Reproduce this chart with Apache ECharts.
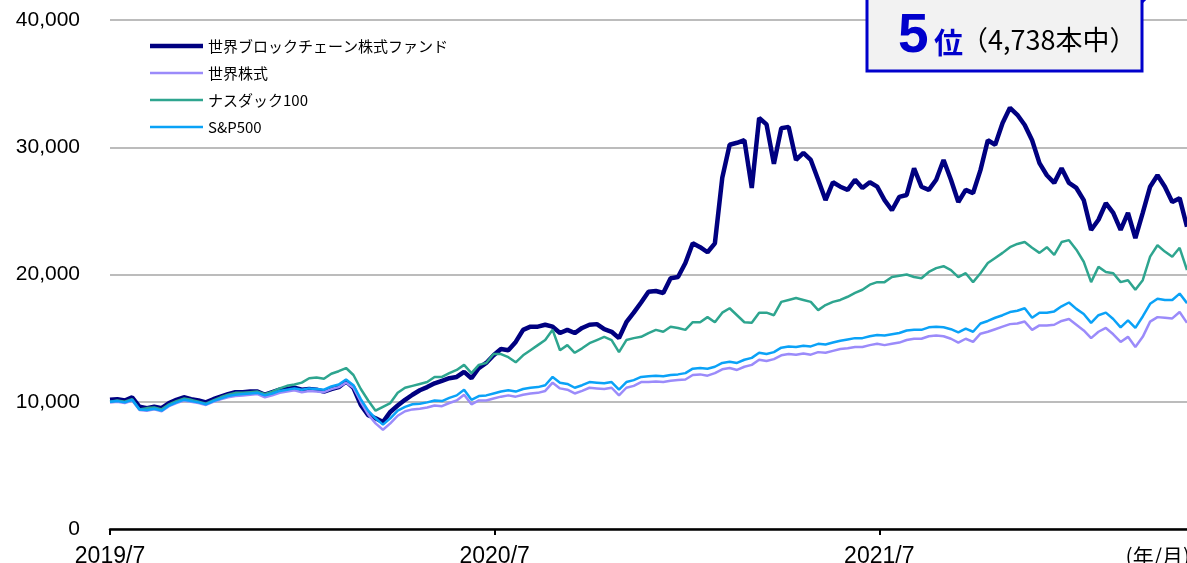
<!DOCTYPE html>
<html>
<head>
<meta charset="utf-8">
<script src="https://cdn.jsdelivr.net/npm/echarts/dist/echarts.min.js"></script>
<style>
  html, body { margin: 0; padding: 0; background: #fff; }
  #chart { width: 1187px; height: 563px; }
</style>
</head>
<body>
<div id="chart"></div>
<script>
// weekly closes, indexed to 10,000 at 2019/7
const seriesNames = ['世界ブロックチェーン株式ファンド', '世界株式', 'ナスダック100', 'S&P500']
const xTickLabels = ['2019/7', '2020/7', '2021/7']
const daysPerPoint = 7

const fund = [
  10150, 10200, 10100, 10350, 9600, 9500, 9600, 9500, 9900, 10150,
  10350, 10200, 10100, 9950, 10200, 10400, 10600, 10750, 10750, 10800,
  10800, 10550, 10750, 10950, 11000, 11100, 10950, 11000, 10950, 10800,
  11000, 11150, 11600, 11100, 9750, 8950, 8700, 8400, 9200, 9700,
  10150, 10550, 10900, 11150, 11450, 11650, 11850, 11950, 12350, 11850,
  12650, 13050, 13650, 14150, 14050, 14700, 15650, 15900, 15900, 16050,
  15900, 15400, 15650, 15400, 15800, 16050, 16100, 15700, 15500, 15000,
  16250, 17000, 17800, 18650, 18700, 18550, 19700, 19800, 20900, 22450,
  22150, 21750, 22450, 27600, 30200, 30350, 30550, 26800, 32300, 31800,
  28700, 31500, 31600, 29000, 29550, 29000, 27450, 25850, 27250, 26900,
  26650, 27450, 26800, 27250, 26900, 25850, 25050, 26100, 26250, 28350,
  26900, 26650, 27450, 29000, 27450, 25700, 26650, 26400, 28200, 30550,
  30200, 31900, 33100, 32550, 31750, 30550, 28750, 27800, 27200, 28350,
  27200, 26800, 25850, 23500, 24300, 25600, 24850, 23500, 24850, 22850,
  24850, 26900, 27800, 26900, 25700, 26000, 23750
]
const world = [
  9950, 10000, 9900, 10100, 9350, 9300, 9400, 9250, 9650, 9900,
  10100, 10000, 9900, 9750, 10000, 10200, 10350, 10450, 10500, 10550,
  10600, 10350, 10500, 10700, 10800, 10900, 10750, 10850, 10800, 10750,
  11000, 11150, 11500, 11100, 10000, 9000, 8300, 7800, 8300, 8900,
  9250, 9400, 9450, 9550, 9700, 9650, 9900, 10100, 10550, 9800,
  10100, 10100, 10250, 10400, 10500, 10400, 10550, 10650, 10700, 10850,
  11500, 11050, 10950, 10650, 10850, 11100, 11050, 11000, 11100, 10500,
  11100, 11250, 11550, 11550, 11600, 11550, 11650, 11700, 11750, 12100,
  12150, 12050, 12250, 12550, 12650, 12500, 12750, 12900, 13300, 13200,
  13350, 13650, 13750, 13700, 13800, 13700, 13900, 13850, 14000, 14150,
  14200, 14300, 14300, 14450, 14550, 14450, 14550, 14650, 14850, 14950,
  14950, 15150, 15200, 15150, 14950, 14650, 14950, 14700, 15350, 15500,
  15700, 15900, 16100, 16150, 16300, 15650, 16000, 16000, 16050, 16350,
  16500, 16050, 15600, 15000, 15500, 15800, 15300, 14700, 15100, 14300,
  15100, 16300, 16650, 16600, 16550, 17050, 16200
]
const nasdaq = [
  10000, 10100, 10000, 10200, 9400, 9500, 9550, 9400, 9800, 10050,
  10250, 10150, 10000, 9850, 10100, 10350, 10550, 10700, 10700, 10750,
  10800, 10600, 10800, 11050, 11250, 11350, 11500, 11850, 11900, 11800,
  12200, 12400, 12650, 12100, 11000, 10100, 9300, 9600, 9900, 10700,
  11100, 11250, 11400, 11550, 11950, 11950, 12250, 12500, 12900, 12250,
  12900, 13050, 13750, 13750, 13500, 13100, 13650, 14050, 14450, 14850,
  15650, 14050, 14450, 13850, 14200, 14600, 14850, 15100, 14850, 13900,
  14850, 15000, 15100, 15400, 15650, 15500, 15900, 15800, 15650, 16250,
  16250, 16650, 16250, 17000, 17350, 16800, 16250, 16200, 17000, 17000,
  16800, 17850, 18000, 18150, 18000, 17850, 17200, 17600, 17850, 18000,
  18250, 18550, 18800, 19200, 19400, 19400, 19800, 19900, 20000, 19800,
  19700, 20200, 20500, 20650, 20350, 19800, 20100, 19400, 20100, 20900,
  21300, 21700, 22150, 22400, 22550, 22100, 21700, 22150, 21550, 22550,
  22700, 21950, 21000, 19400, 20600, 20200, 20100, 19400, 19550, 18800,
  19550, 21400, 22300, 21800, 21400, 22100, 20350
]
const sp500 = [
  10000, 10050, 9950, 10150, 9400, 9350, 9450, 9300, 9700, 9950,
  10150, 10050, 9950, 9800, 10050, 10250, 10450, 10550, 10600, 10650,
  10700, 10500, 10650, 10850, 10950, 11050, 10950, 11050, 11000, 10950,
  11200, 11350, 11750, 11300, 10200, 9300, 8700, 8200, 8700, 9300,
  9600, 9800, 9850, 9950, 10100, 10050, 10300, 10500, 10950, 10150,
  10450, 10500, 10650, 10800, 10900, 10800, 11000, 11100, 11150, 11300,
  11950, 11500, 11400, 11100, 11300, 11550, 11500, 11450, 11550, 10950,
  11550, 11700, 11950, 12000, 12050, 12000, 12100, 12150, 12250, 12600,
  12650, 12600, 12750, 13050, 13150, 13050, 13300, 13450, 13850, 13750,
  13900, 14250, 14350, 14300, 14400, 14350, 14550, 14500, 14650, 14800,
  14900, 15000, 15000, 15150, 15250, 15200, 15300, 15400, 15600, 15650,
  15650, 15850, 15900, 15850, 15700, 15450, 15750, 15500, 16150, 16350,
  16600, 16800, 17050, 17150, 17350, 16600, 17000, 17000, 17100, 17500,
  17800, 17300, 16900, 16200, 16800, 17000, 16500, 15850, 16400, 15800,
  16700, 17700, 18100, 18000, 18000, 18500, 17750
]

const toPairs = (arr) => arr.map((v, i) => [i * daysPerPoint, v])
const lastDay = (fund.length - 1) * daysPerPoint

const myChart = echarts.init(document.getElementById('chart'))
const jp = '"Noto Sans CJK JP", "Noto Sans", sans-serif'
const num = '"Liberation Sans", Arial, sans-serif'

const colors = ['#000080', '#9b8bfa', '#2ea58f', '#0aa2f7']
const widths = [4.5, 2.5, 2.5, 2.5]

const option = {
  animation: false,
  backgroundColor: '#fff',
  grid: { left: 110, right: 0, top: 20, bottom: 34, containLabel: false, outerBoundsMode: 'none' },
  legend: {
    orient: 'vertical',
    left: 150,
    top: 38,
    padding: 0,
    itemWidth: 53,
    itemHeight: 14,
    itemGap: 11,
    symbolKeepAspect: true,
    textStyle: { fontSize: 15, color: '#000', fontFamily: jp, lineHeight: 16 },
    data: seriesNames.map((name, i) => ({
      name,
      icon: i === 0 ? 'path://M0,0H53V4.5H0Z' : 'path://M0,0H53V2.5H0Z',
      itemStyle: { color: colors[i] }
    }))
  },
  xAxis: {
    type: 'value',
    min: 0,
    max: lastDay,
    interval: 365,
    splitLine: { show: false },
    axisLine: { lineStyle: { color: '#000', width: 2.5 } },
    axisTick: { show: true, length: 6, lineStyle: { color: '#000', width: 2 } },
    axisLabel: {
      margin: 16,
      fontSize: 23,
      color: '#000',
      fontFamily: num,
      showMaxLabel: false,
      formatter(v) {
        const k = Math.round(v / 365)
        return Math.abs(v - k * 365) < 2 && xTickLabels[k] ? xTickLabels[k] : ''
      }
    }
  },
  yAxis: {
    type: 'value',
    min: 0,
    max: 40000,
    interval: 10000,
    axisLine: { show: false },
    axisTick: { show: false },
    splitLine: { lineStyle: { color: '#a6a6a6', width: 1.5 } },
    axisLabel: {
      margin: 30,
      fontSize: 21,
      color: '#000',
      fontFamily: num,
      formatter: (v) => v.toLocaleString('en-US')
    }
  },
  series: seriesNames.map((name, i) => ({
    name,
    type: 'line',
    data: toPairs([fund, world, nasdaq, sp500][i]),
    symbol: 'none',
    lineStyle: { color: colors[i], width: widths[i] },
    itemStyle: { color: colors[i] },
    z: i === 0 ? 2 : 3 + i
  })),
  graphic: [
    { type: 'rect', shape: { x: 867, y: -3, width: 275, height: 74 },
      style: { fill: '#f2f2f2', stroke: '#0000cc', lineWidth: 3 }, z: 100 },
    { type: 'line', shape: { x1: 1142, y1: 2, x2: 1148, y2: -4 },
      style: { stroke: '#0000cc', lineWidth: 3 }, z: 100 },
    { type: 'text', x: 898, y: 37, z: 101,
      style: { text: '5', font: 'bold 55px ' + num, fill: '#0000cc', verticalAlign: 'middle' } },
    { type: 'text', x: 934, y: 43, z: 101,
      style: { text: '位', font: 'bold 29px ' + jp, fill: '#0000cc', verticalAlign: 'middle' } },
    { type: 'text', x: 961, y: 40, z: 101,
      style: { text: '（4,738本中）', font: '27px ' + jp, fill: '#000', verticalAlign: 'middle' } },
    { type: 'text', x: 1190, y: 546, z: 101,
      style: { text: '(年/月)', font: '21px ' + jp, fill: '#000', align: 'right', verticalAlign: 'top' } }
  ]
}

myChart.setOption(option)
</script>
</body>
</html>
